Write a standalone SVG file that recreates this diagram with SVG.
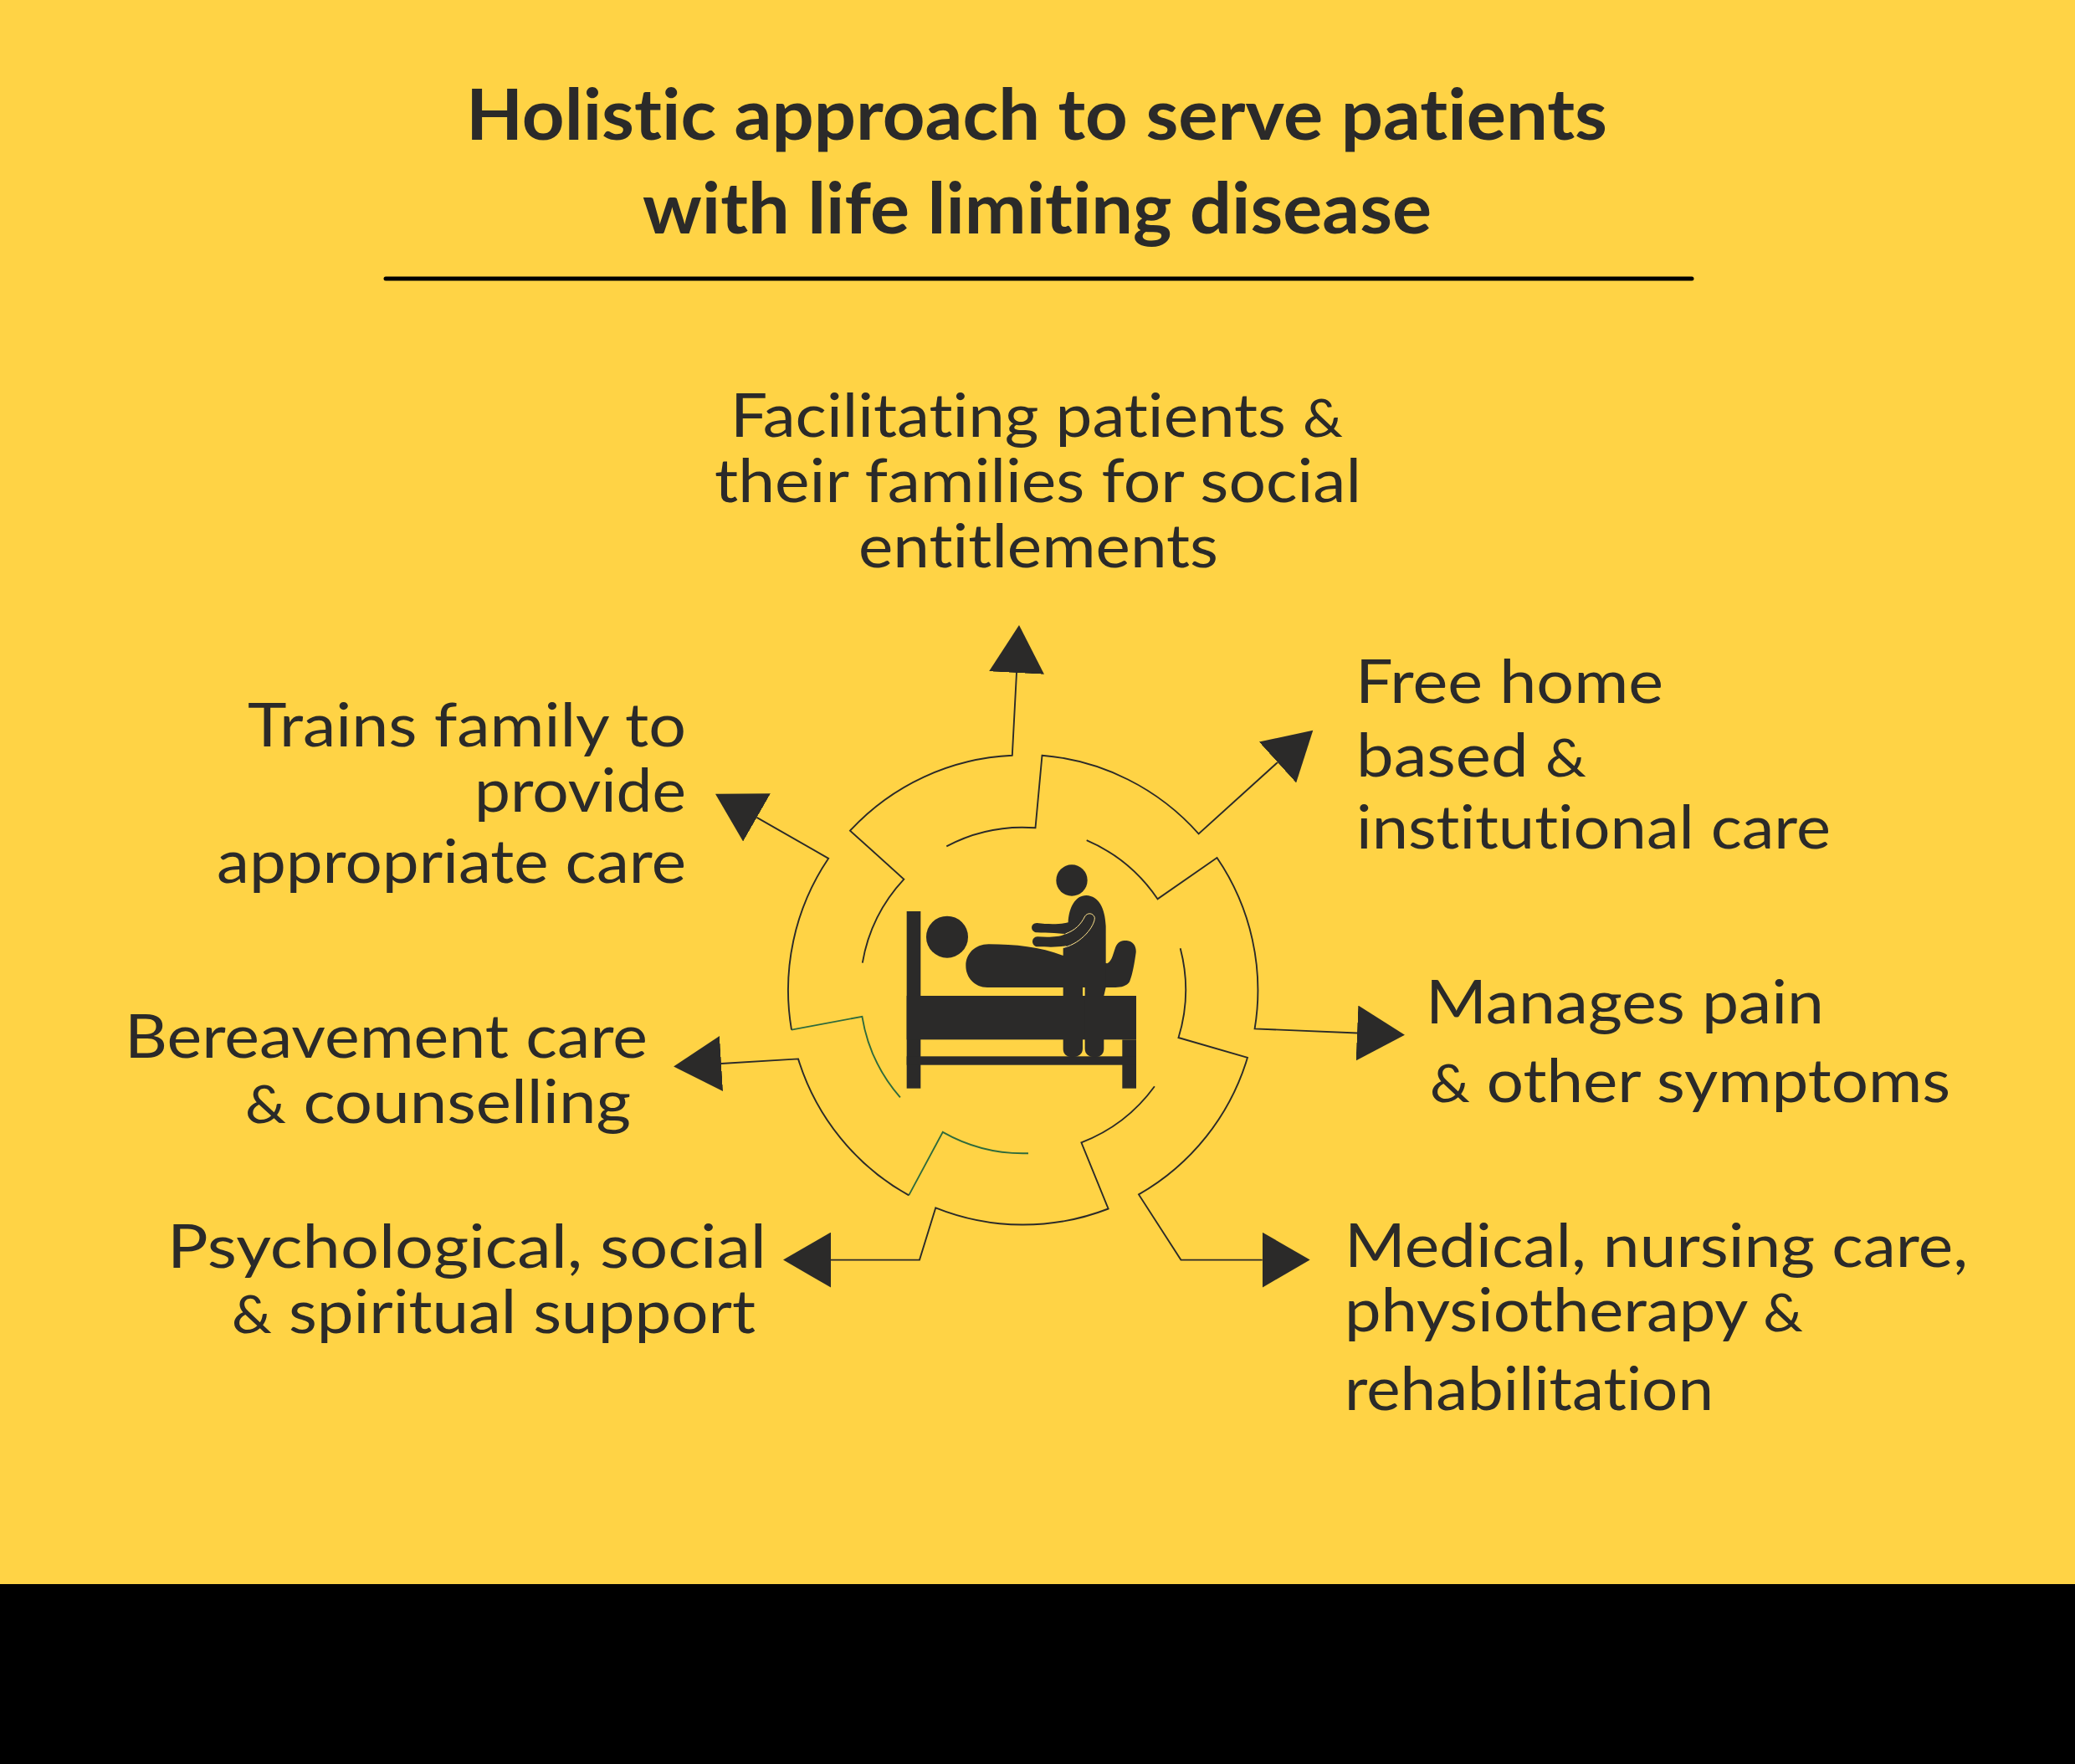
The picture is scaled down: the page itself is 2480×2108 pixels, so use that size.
<svg xmlns="http://www.w3.org/2000/svg" width="2480" height="2108" viewBox="0 0 2480 2108">
<style>
.t{font-family:"Lato","Noto Sans",sans-serif;fill:#2b2a29;font-size:72px;font-weight:400;font-variant-ligatures:none}
.h{font-size:84px;font-weight:700}
.a{font-size:62px}
.c{fill:none;stroke:#2b2a29;stroke-width:1.9;stroke-linejoin:miter}
.g{fill:none;stroke:#2f6b3c;stroke-width:1.9}
.i{fill:#2b2a29}
</style>
<defs>
<marker id="arrow" markerUnits="userSpaceOnUse" markerWidth="58" markerHeight="66" viewBox="0 0 58 66" refX="0" refY="33" orient="auto"><path d="M0 0L57 33L0 66Z" fill="#2b2a29"/></marker>
</defs>
<rect width="2480" height="1893" fill="#ffd345"/>
<rect y="1893" width="2480" height="215" fill="#000"/>
<g id="title">
<text class="t h" x="557" y="167" textLength="1364" lengthAdjust="spacingAndGlyphs">Holistic approach to serve patients</text>
<text class="t h" x="768" y="279" textLength="943" lengthAdjust="spacingAndGlyphs">with life limiting disease</text>
<line x1="461" y1="333" x2="2022" y2="333" stroke="#000" stroke-width="5" stroke-linecap="round"/>
</g>
<g id="connectors">
<path class="c" marker-end="url(#arrow)" d="M1030.8 1150.6A195 195 0 0 1 1080.4 1050.7L1016 992.6A281 281 0 0 1 1209.8 902.7L1215 804"/>
<path class="c" marker-end="url(#arrow)" d="M1131.3 1011.3A195 195 0 0 1 1237.5 989.3L1245.5 902.7A281 281 0 0 1 1432.6 996.4L1527 911"/>
<path class="c" marker-end="url(#arrow)" d="M1298.7 1004.2A195 195 0 0 1 1383.5 1074.3L1454.5 1025A281 281 0 0 1 1499.6 1229.4L1622 1234.5"/>
<path class="c" marker-end="url(#arrow)" d="M1410.7 1133.2A195 195 0 0 1 1408.5 1240L1491 1263.8A281 281 0 0 1 1361 1427.4L1411.4 1505.6L1508.7 1505.6"/>
<path class="c" marker-end="url(#arrow)" d="M1379.9 1298.2A195 195 0 0 1 1292.4 1365.3L1324.6 1444.5A281 281 0 0 1 1118.3 1443.3L1099 1505.6L993 1505.6"/>
<path class="g" d="M1229 1378.2A195 195 0 0 1 1126.8 1352.9L1086.2 1428.4"/>
<path class="c" marker-end="url(#arrow)" d="M1086.2 1428.4A281 281 0 0 1 954 1265.4L862 1271"/>
<path class="g" d="M1075.9 1311.4A195 195 0 0 1 1030.4 1214.8L946 1230.6"/>
<path class="c" marker-end="url(#arrow)" d="M946 1230.6A281 281 0 0 1 990.2 1025.8L904.5 976.9"/>
</g>
<g id="patient-icon" transform="translate(1040 1010) scale(.33333)">
<rect class="i" x="131" y="237" width="50" height="635"/>
<rect class="i" x="131" y="540" width="823" height="157"/>
<rect class="i" x="904" y="697" width="50" height="175"/>
<rect class="i" x="131" y="757" width="823" height="31"/>
<circle class="i" cx="276" cy="329" r="75"/>
<path class="i" d="M420 510C375 510 343 475 343 432C343 390 375 355 425 355C520 355 610 365 690 395L850 424C868 415 872 385 880 365C888 345 905 341 920 342C942 344 955 362 953 385C948 420 942 460 930 490C920 505 900 510 880 510Z"/>
<circle class="i" cx="723" cy="126" r="56"/>
<path class="i" d="M692 510V370L705 360C680 366 650 366 600 364C576 362 576 329 600 328C640 330 680 330 700 318L660 315C640 315 615 314 598 313C573 310 573 280 598 279C640 284 680 284 710 277C712 225 735 180 775 180C820 182 842 225 845 290V510L838 540V730C838 750 825 760 805 760C785 760 770 750 770 730V510H762V730C762 750 745 760 725 760C705 760 692 750 692 730Z"/>
<path d="M700 318C735 305 755 285 770 255C780 240 800 243 805 260C805 290 760 350 695 367" fill="none" stroke="#ffe38c" stroke-width="3"/>
</g>
<g id="node-social"><text class="t" x="873" y="522" textLength="732" lengthAdjust="spacingAndGlyphs">Facilitating patients <tspan class="a">&amp;</tspan></text>
<text class="t" x="854" y="600" textLength="773" lengthAdjust="spacingAndGlyphs">their families for social</text>
<text class="t" x="1026" y="678" textLength="430" lengthAdjust="spacingAndGlyphs">entitlements</text></g>
<g id="node-home"><text class="t" x="1620" y="840" textLength="368" lengthAdjust="spacingAndGlyphs">Free home</text>
<text class="t" x="1621" y="928" textLength="275" lengthAdjust="spacingAndGlyphs">based <tspan class="a">&amp;</tspan></text>
<text class="t" x="1621" y="1014" textLength="567" lengthAdjust="spacingAndGlyphs">institutional care</text></g>
<g id="node-pain"><text class="t" x="1704" y="1223" textLength="476" lengthAdjust="spacingAndGlyphs">Manages pain</text>
<text class="t" x="1709" y="1317" textLength="622" lengthAdjust="spacingAndGlyphs"><tspan class="a">&amp;</tspan> other symptoms</text></g>
<g id="node-medical"><text class="t" x="1607" y="1514" textLength="745" lengthAdjust="spacingAndGlyphs">Medical, nursing care,</text>
<text class="t" x="1607" y="1591" textLength="548" lengthAdjust="spacingAndGlyphs">physiotherapy <tspan class="a">&amp;</tspan></text>
<text class="t" x="1607" y="1685" textLength="441" lengthAdjust="spacingAndGlyphs">rehabilitation</text></g>
<g id="node-train"><text class="t" x="296" y="892" textLength="524" lengthAdjust="spacingAndGlyphs">Trains family to</text>
<text class="t" x="567" y="970" textLength="253" lengthAdjust="spacingAndGlyphs">provide</text>
<text class="t" x="259" y="1055" textLength="561" lengthAdjust="spacingAndGlyphs">appropriate care</text></g>
<g id="node-bereavement"><text class="t" x="149" y="1264" textLength="625" lengthAdjust="spacingAndGlyphs">Bereavement care</text>
<text class="t" x="293" y="1342" textLength="461" lengthAdjust="spacingAndGlyphs"><tspan class="a">&amp;</tspan> counselling</text></g>
<g id="node-support"><text class="t" x="200" y="1515" textLength="716" lengthAdjust="spacingAndGlyphs">Psychological, social</text>
<text class="t" x="277" y="1593" textLength="626" lengthAdjust="spacingAndGlyphs"><tspan class="a">&amp;</tspan> spiritual support</text></g>
</svg>
